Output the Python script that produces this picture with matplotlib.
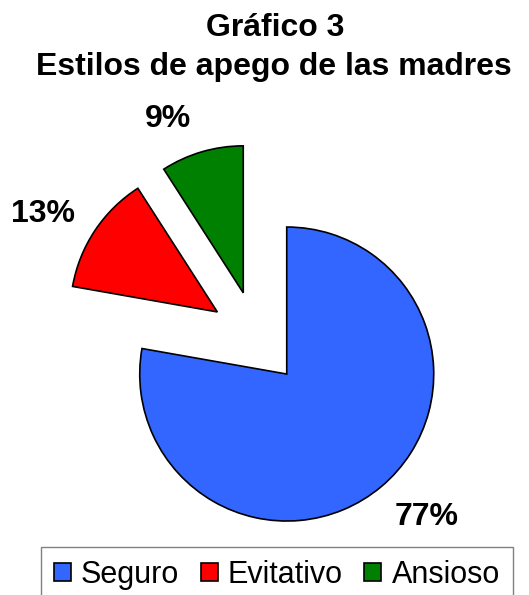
import matplotlib
matplotlib.use("Agg")
import matplotlib.pyplot as plt

plt.rcParams['font.family'] = ['Liberation Sans', 'DejaVu Sans']

# attachment styles of the mothers (percent)
categories = ['Seguro', 'Evitativo', 'Ansioso']
values = [77, 13, 9]
colors = ['#3366FF', '#FF0000', '#008000']
# small nudges (pixels) for the percentage labels
label_shift = [(14, 7), (-12, -10), (-20, -14)]

fig = plt.figure(figsize=(5.29, 5.95), dpi=100)
W, H = 529, 595
R = 147  # pie radius in pixels
cx, cy = 256.5, 338  # pie centre in pixels from top-left

ax = fig.add_axes([0, 0, 1, 1])
total = sum(values)
wedges, texts, autotexts = ax.pie(
    values, colors=colors, startangle=90, counterclock=False,
    explode=[0.32, 0.32, 0.32],
    autopct=lambda p: '%d%%' % round(p * total / 100.0),
    pctdistance=1.33,
    wedgeprops=dict(edgecolor='black', linewidth=1.2),
    textprops=dict(fontsize=23, fontweight='bold'))
for t, (dx, dy) in zip(autotexts, label_shift):
    x, y = t.get_position()
    t.set_position((x + dx / R, y + dy / R))
ax.set_xlim(-cx / R, (W - cx) / R)
ax.set_ylim(-(H - cy) / R, cy / R)
ax.set_aspect('auto')
ax.axis('off')

fig.text(275 / W, 1 - 36 / H, 'Gráfico 3', ha='center', va='baseline',
         fontsize=23, fontweight='bold')
fig.text(274 / W, 1 - 75 / H, 'Estilos de apego de las madres', ha='center',
         va='baseline', fontsize=23, fontweight='bold')

leg = fig.legend(wedges, categories, loc='upper left',
                 bbox_to_anchor=(41 / W, 1 - 547 / H), ncol=3,
                 fontsize=22, handlelength=0.56, handleheight=0.56,
                 handletextpad=0.33, columnspacing=0.7, borderpad=0.42,
                 fancybox=False, frameon=True, borderaxespad=0)
leg.get_frame().set_edgecolor('#606060')
leg.get_frame().set_linewidth(1.0)

fig.savefig('out.png', dpi=100)
